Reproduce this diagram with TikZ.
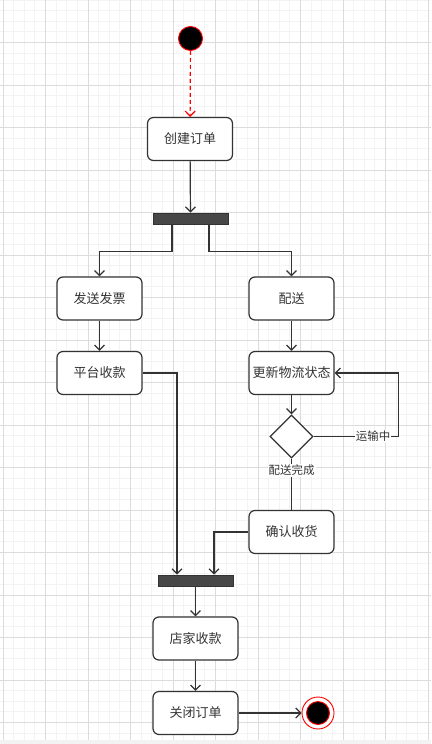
\documentclass[tikz,border=0pt]{standalone}
\usepackage{fontspec}
\newfontfamily\cjkfont{Noto Sans CJK SC}
\usetikzlibrary{arrows.meta,shapes.geometric}
\definecolor{adink}{HTML}{333333}
\definecolor{adred}{HTML}{FF0000}
\definecolor{adbar}{HTML}{474747}
\definecolor{adgridmajor}{HTML}{DCDCDC}
\definecolor{adgridminor}{HTML}{F3F3F3}
\tikzset{
  ad text/.style={font=\cjkfont\fontsize{13pt}{15pt}\selectfont, text=adink},
  ad action/.style={draw=adink, line width=1.2pt, rounded corners=6pt, fill=white,
    minimum width=85pt, minimum height=43pt, inner sep=0pt},
  ad bar/.style={draw=adink, line width=0.8pt, fill=adbar,
    minimum width=75pt, minimum height=11pt, inner sep=0pt},
  ad choice/.style={diamond, draw=adink, line width=1.2pt, fill=white,
    minimum width=43pt, minimum height=43pt, inner sep=0pt},
  ad start/.style={circle, fill=black, draw=adred, line width=0.9pt,
    minimum size=24pt, inner sep=0pt},
  ad end/.style={circle, draw=adred, line width=0.9pt, fill=white,
    minimum size=32pt, inner sep=0pt},
  ad arrow/.style={-{Straight Barb[length=5pt,width=10pt]}, line width=1.2pt, draw=adink},
  ad line/.style={line width=1.2pt, draw=adink},
  ad flow/.style={ad arrow, draw=adred, dash pattern=on 4pt off 3pt},
  ad label/.style={font=\cjkfont\fontsize{11.5pt}{13pt}\selectfont, text=adink,
    fill=white, inner sep=1pt},
  ad grid minor/.style={draw=adgridminor, line width=0.8pt},
  ad grid major/.style={draw=adgridmajor, line width=0.9pt}
}

\begin{document}
\begin{tikzpicture}[ad text, x=1pt, y=-1pt]
  \useasboundingbox (0,0) rectangle (431,744);
  % background grid
  \foreach \i in {0,...,40} \draw[ad grid minor] ({3+10.625*\i},0) -- ({3+10.625*\i},744);
  \foreach \i in {0,...,70} \draw[ad grid minor] (0,{10.625*\i}) -- (431,{10.625*\i});
  \foreach \i in {0,...,10} \draw[ad grid major] ({3+42.5*\i},0) -- ({3+42.5*\i},744);
  \foreach \i in {1,...,17} \draw[ad grid major] (0,{42.5*\i}) -- (431,{42.5*\i});
  \fill[adgridminor] (0,740) rectangle (431,744);

  % nodes
  \node[ad start] (start) at (190.5,38.5) {};
  \node[ad action] (create) at (190,139) {创建订单};
  \node[ad bar] (fork) at (190.5,218.5) {};
  \node[ad action] (invoice) at (99.5,298.5) {发送发票};
  \node[ad action] (ship) at (291.5,298.5) {配送};
  \node[ad action] (collect) at (99.5,373) {平台收款};
  \node[ad action] (update) at (291.5,373) {更新物流状态};
  \node[ad choice] (check) at (291.5,436.5) {};
  \node[ad action] (confirm) at (291.5,532) {确认收货};
  \node[ad bar] (join) at (195.5,580.5) {};
  \node[ad action] (shopcollect) at (195.5,638.5) {店家收款};
  \node[ad action] (close) at (195.5,713) {关闭订单};
  \node[ad end] (finish) at (318,713) {};
  \node[ad start, minimum size=23pt] (finish core) at (finish) {};

  % connectors
  \draw[ad flow] (start) -- (create);
  \draw[ad arrow] (create) -- (fork);
  \draw[ad arrow] ([xshift=-18.5pt]fork.south) -- ++(0,27) -| (invoice.north);
  \draw[ad arrow] ([xshift=18.5pt]fork.south) -- ++(0,27) -| (ship.north);
  \draw[ad arrow] (invoice) -- (collect);
  \draw[ad arrow] (ship) -- (update);
  \draw[ad arrow] (collect.east) -| ([xshift=-18.5pt]join.north);
  \draw[ad arrow] (update) -- (check);
  \draw[ad arrow] (check.east) -- node[pos=.7, ad label] {运输中} ++(85,0) |- (update.east);
  \draw[ad line] (check.south) -- node[pos=.23, ad label] {配送完成} (confirm.north);
  \draw[ad arrow] (confirm.west) -| ([xshift=18.5pt]join.north);
  \draw[ad arrow] (join) -- (shopcollect);
  \draw[ad arrow] (shopcollect) -- (close);
  \draw[ad arrow] (close) -- (finish);
\end{tikzpicture}
\end{document}
